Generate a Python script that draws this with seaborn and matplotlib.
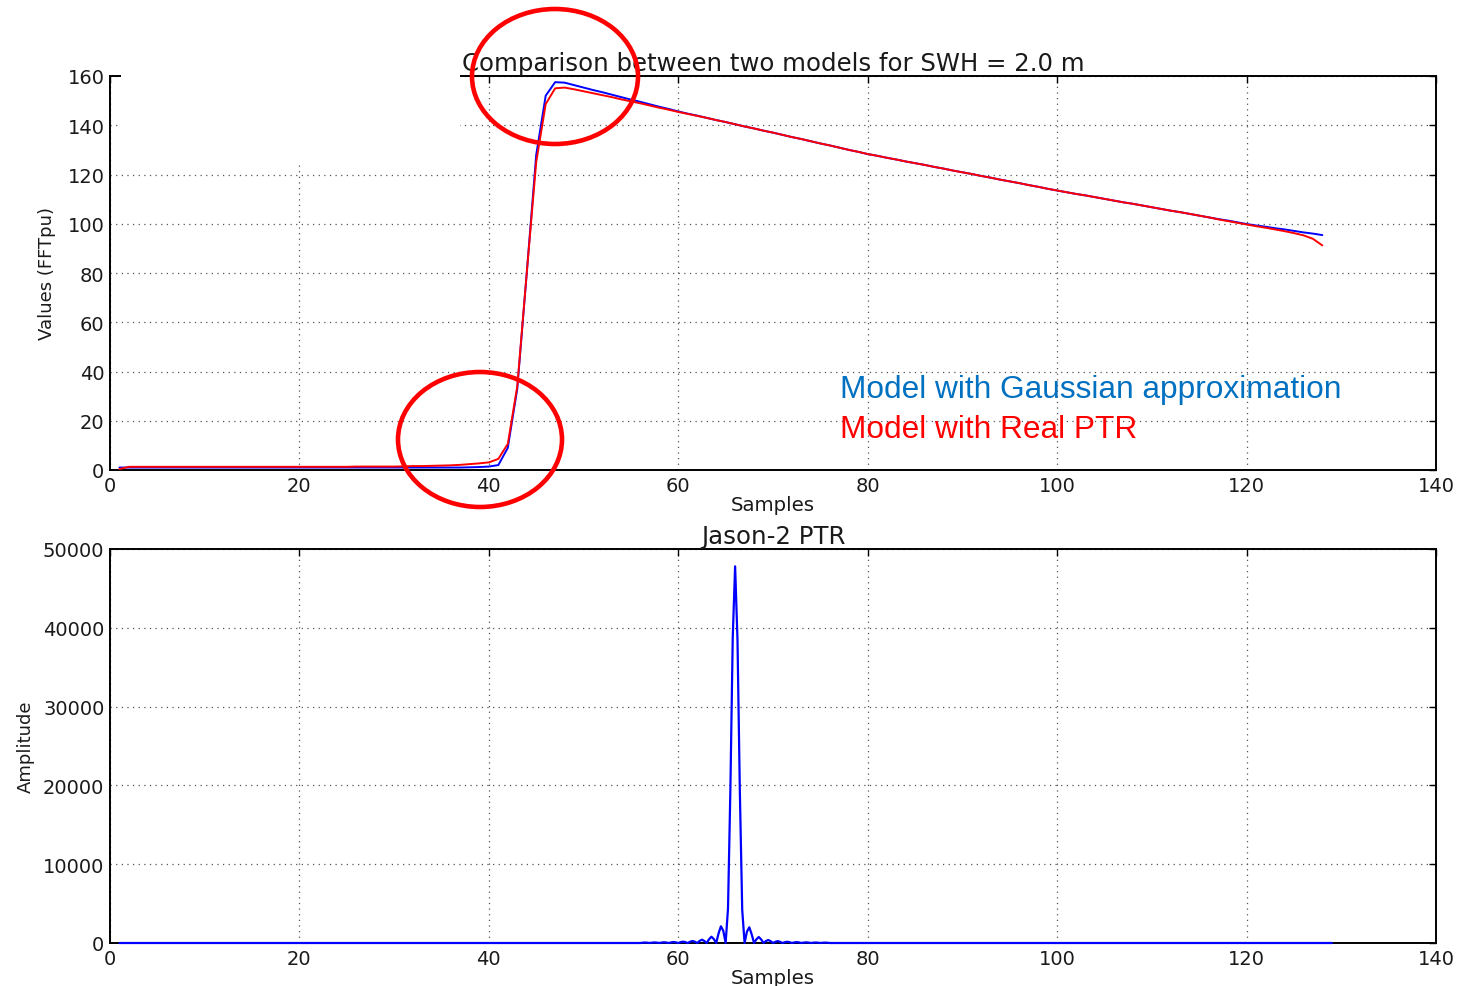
import numpy as np
import pandas as pd
import matplotlib
matplotlib.use("Agg")
import matplotlib.pyplot as plt
from matplotlib.patches import Ellipse, Rectangle
import seaborn as sns

# ---- waveform models (FFT power units) per sample ----
samples = list(range(1, 129))

gauss_model = (
    [1.0] * 37 + [1.1, 1.2, 1.4, 2.0, 9.0, 33.0, 80.0, 128.0, 152.0, 157.5,
    157.3, 156.3, 155.3, 154.3, 153.4, 152.4, 151.4, 150.4, 149.5, 148.5, 147.5, 146.6, 145.6,
    144.7, 143.9, 143.0, 142.1, 141.3, 140.4, 139.5, 138.7, 137.8, 137.0,
    136.1, 135.2, 134.4, 133.5, 132.6, 131.8, 130.9, 130.0, 129.2, 128.3,
    127.6, 126.8, 126.1, 125.3, 124.6, 123.9, 123.1, 122.4, 121.6, 120.9,
    120.2, 119.4, 118.7, 117.9, 117.2, 116.5, 115.7, 115.0, 114.2, 113.5,
    112.8, 112.1, 111.5, 110.8, 110.1, 109.4, 108.7, 108.1, 107.4, 106.7,
    106.0, 105.3, 104.7, 104.0, 103.3, 102.6, 101.9, 101.3, 100.6, 99.9,
    99.3, 98.8, 98.2, 97.7, 97.1, 96.5, 96.0, 95.4]
)

real_ptr_model = (
    [0.4] + [1.3] * 24 + [1.4] * 5 + [1.5, 1.6, 1.6, 1.7, 1.8,
    1.9, 2.1, 2.4, 2.7, 3.1, 4.5, 10.6, 34.0, 80.0, 125.0, 148.6, 155.0,
    155.3, 154.6, 153.8, 153.0, 152.2, 151.4, 150.5, 149.7, 148.9, 148.0, 147.1, 146.3, 145.4,
    144.6, 143.8, 143.0, 142.1, 141.3, 140.4, 139.5, 138.7, 137.8, 137.0,
    136.1, 135.2, 134.4, 133.5, 132.6, 131.8, 130.9, 130.0, 129.2, 128.3,
    127.6, 126.8, 126.1, 125.3, 124.6, 123.9, 123.1, 122.4, 121.6, 120.9,
    120.2, 119.4, 118.7, 117.9, 117.2, 116.5, 115.7, 115.0, 114.2, 113.5,
    112.8, 112.1, 111.5, 110.8, 110.1, 109.4, 108.7, 108.1, 107.4, 106.7,
    106.0, 105.3, 104.7, 104.0, 103.3, 102.6, 101.8, 101.1, 100.4, 99.7,
    99.0, 98.4, 97.7, 97.0, 96.2, 95.3, 93.9, 91.2]
)

# ---- Jason-2 point target response, quarter-sample resolution around the peak ----
ptr_samples = [1.0] + [float(v) for v in np.arange(56.0, 76.01, 0.25)] + [129.0]
ptr_amplitude = (
    [0.0] +
    [0, 40, 60, 40, 0, 50, 75, 50, 0, 60, 95, 60, 0, 80, 125, 80,
     0, 110, 170, 110, 0, 160, 250, 160, 0, 260, 420, 250, 0, 480, 800, 500,
     0, 1200, 2120, 1550, 0, 4400, 19500, 38800,
     47800,
     38500, 19200, 4200, 0, 1450, 1990, 1100, 0, 470, 760, 450, 0,
     240, 380, 230, 0, 150, 240, 150, 0, 100, 160, 100, 0,
     75, 115, 75, 0, 55, 85, 55, 0, 45, 65, 45, 0, 35, 50, 35, 0] +
    [0.0]
)

x_ticks = [0, 20, 40, 60, 80, 100, 120, 140]
top_y_ticks = [0, 20, 40, 60, 80, 100, 120, 140, 160]
bottom_y_ticks = [0, 10000, 20000, 30000, 40000, 50000]

top_title = "Comparison between two models for SWH = 2.0 m"
bottom_title = "Jason-2 PTR"
label_gauss = "Model with Gaussian approximation"
label_real = "Model with Real PTR"

sns.set_style("white")
plt.rcParams["font.family"] = ["DejaVu Sans"]
plt.rcParams["xtick.direction"] = "in"
plt.rcParams["ytick.direction"] = "in"

W, H = 1459, 987
fig = plt.figure(figsize=(W / 100, H / 100), dpi=100)
fig.patch.set_facecolor("white")


def fx(px):
    return px / W


def fy(py):
    return 1 - py / H


ax1 = fig.add_axes([fx(110), fy(471), fx(1436) - fx(110), fy(77) - fy(471)])
ax2 = fig.add_axes([fx(110), fy(944), fx(1436) - fx(110), fy(550) - fy(944)])

top_df = pd.DataFrame({
    "sample": samples * 2,
    "value": gauss_model + real_ptr_model,
    "model": ["gauss"] * len(samples) + ["real"] * len(samples),
})
sns.lineplot(data=top_df, x="sample", y="value", hue="model",
             palette={"gauss": "#0000ff", "real": "#ff0000"},
             linewidth=1.4, legend=False, ax=ax1, estimator=None, sort=False)

ptr_df = pd.DataFrame({"sample": ptr_samples, "amp": ptr_amplitude})
sns.lineplot(data=ptr_df, x="sample", y="amp", color="#0000ff", linewidth=1.6,
             ax=ax2, estimator=None, sort=False)

for ax, yt in ((ax1, top_y_ticks), (ax2, bottom_y_ticks)):
    ax.set_xlim(0, 140)
    ax.set_ylim(yt[0], yt[-1])
    ax.set_xticks(x_ticks)
    ax.set_yticks(yt)
    ax.grid(True, color="#555555", linestyle=(0, (1, 3.5)), linewidth=0.9)
    ax.tick_params(axis="both", which="major", labelsize=14, length=5, width=1,
                   colors="black", labelcolor="#1a1a1a", top=True, right=True,
                   pad=4)
    for sp in ax.spines.values():
        sp.set_color("black")
        sp.set_linewidth(1.4)
    for ln in ax.get_lines():
        ln.set_zorder(3)
        ln.set_clip_on(False)
    ax.set_xlabel("Samples", fontsize=14.2, color="#1a1a1a", labelpad=0)

ax1.set_ylabel("Values (FFTpu)", fontsize=13, color="#1a1a1a", labelpad=8)
ax2.set_ylabel("Amplitude", fontsize=13, color="#1a1a1a", labelpad=6)
ax1.set_title(top_title, fontsize=17.6, color="#1a1a1a", pad=4)
ax2.set_title(bottom_title, fontsize=17.6, color="#1a1a1a", pad=4)

# blank patch over the upper-left corner of the top panel
fig.add_artist(Rectangle((fx(121), fy(165)), fx(460) - fx(121), fy(68) - fy(165),
                         transform=fig.transFigure, facecolor="white",
                         edgecolor="none", zorder=5))

# red highlight circles
for cx, cy, w, h in ((555, 77.5, 166, 135), (480, 440.5, 164, 135)):
    fig.add_artist(Ellipse((fx(cx), fy(cy)), w / W, h / H,
                           transform=fig.transFigure, fill=False,
                           edgecolor="#ff0000", linewidth=3.3, zorder=10))

fig.text(fx(840), fy(398), label_gauss, color="#0070c0", fontsize=22.8,
         family=["Liberation Sans", "DejaVu Sans"], va="baseline", zorder=11)
fig.text(fx(840), fy(438), label_real, color="#ff0000", fontsize=22.8,
         family=["Liberation Sans", "DejaVu Sans"], va="baseline", zorder=11)

fig.savefig("out.png", dpi=100, facecolor="white")
